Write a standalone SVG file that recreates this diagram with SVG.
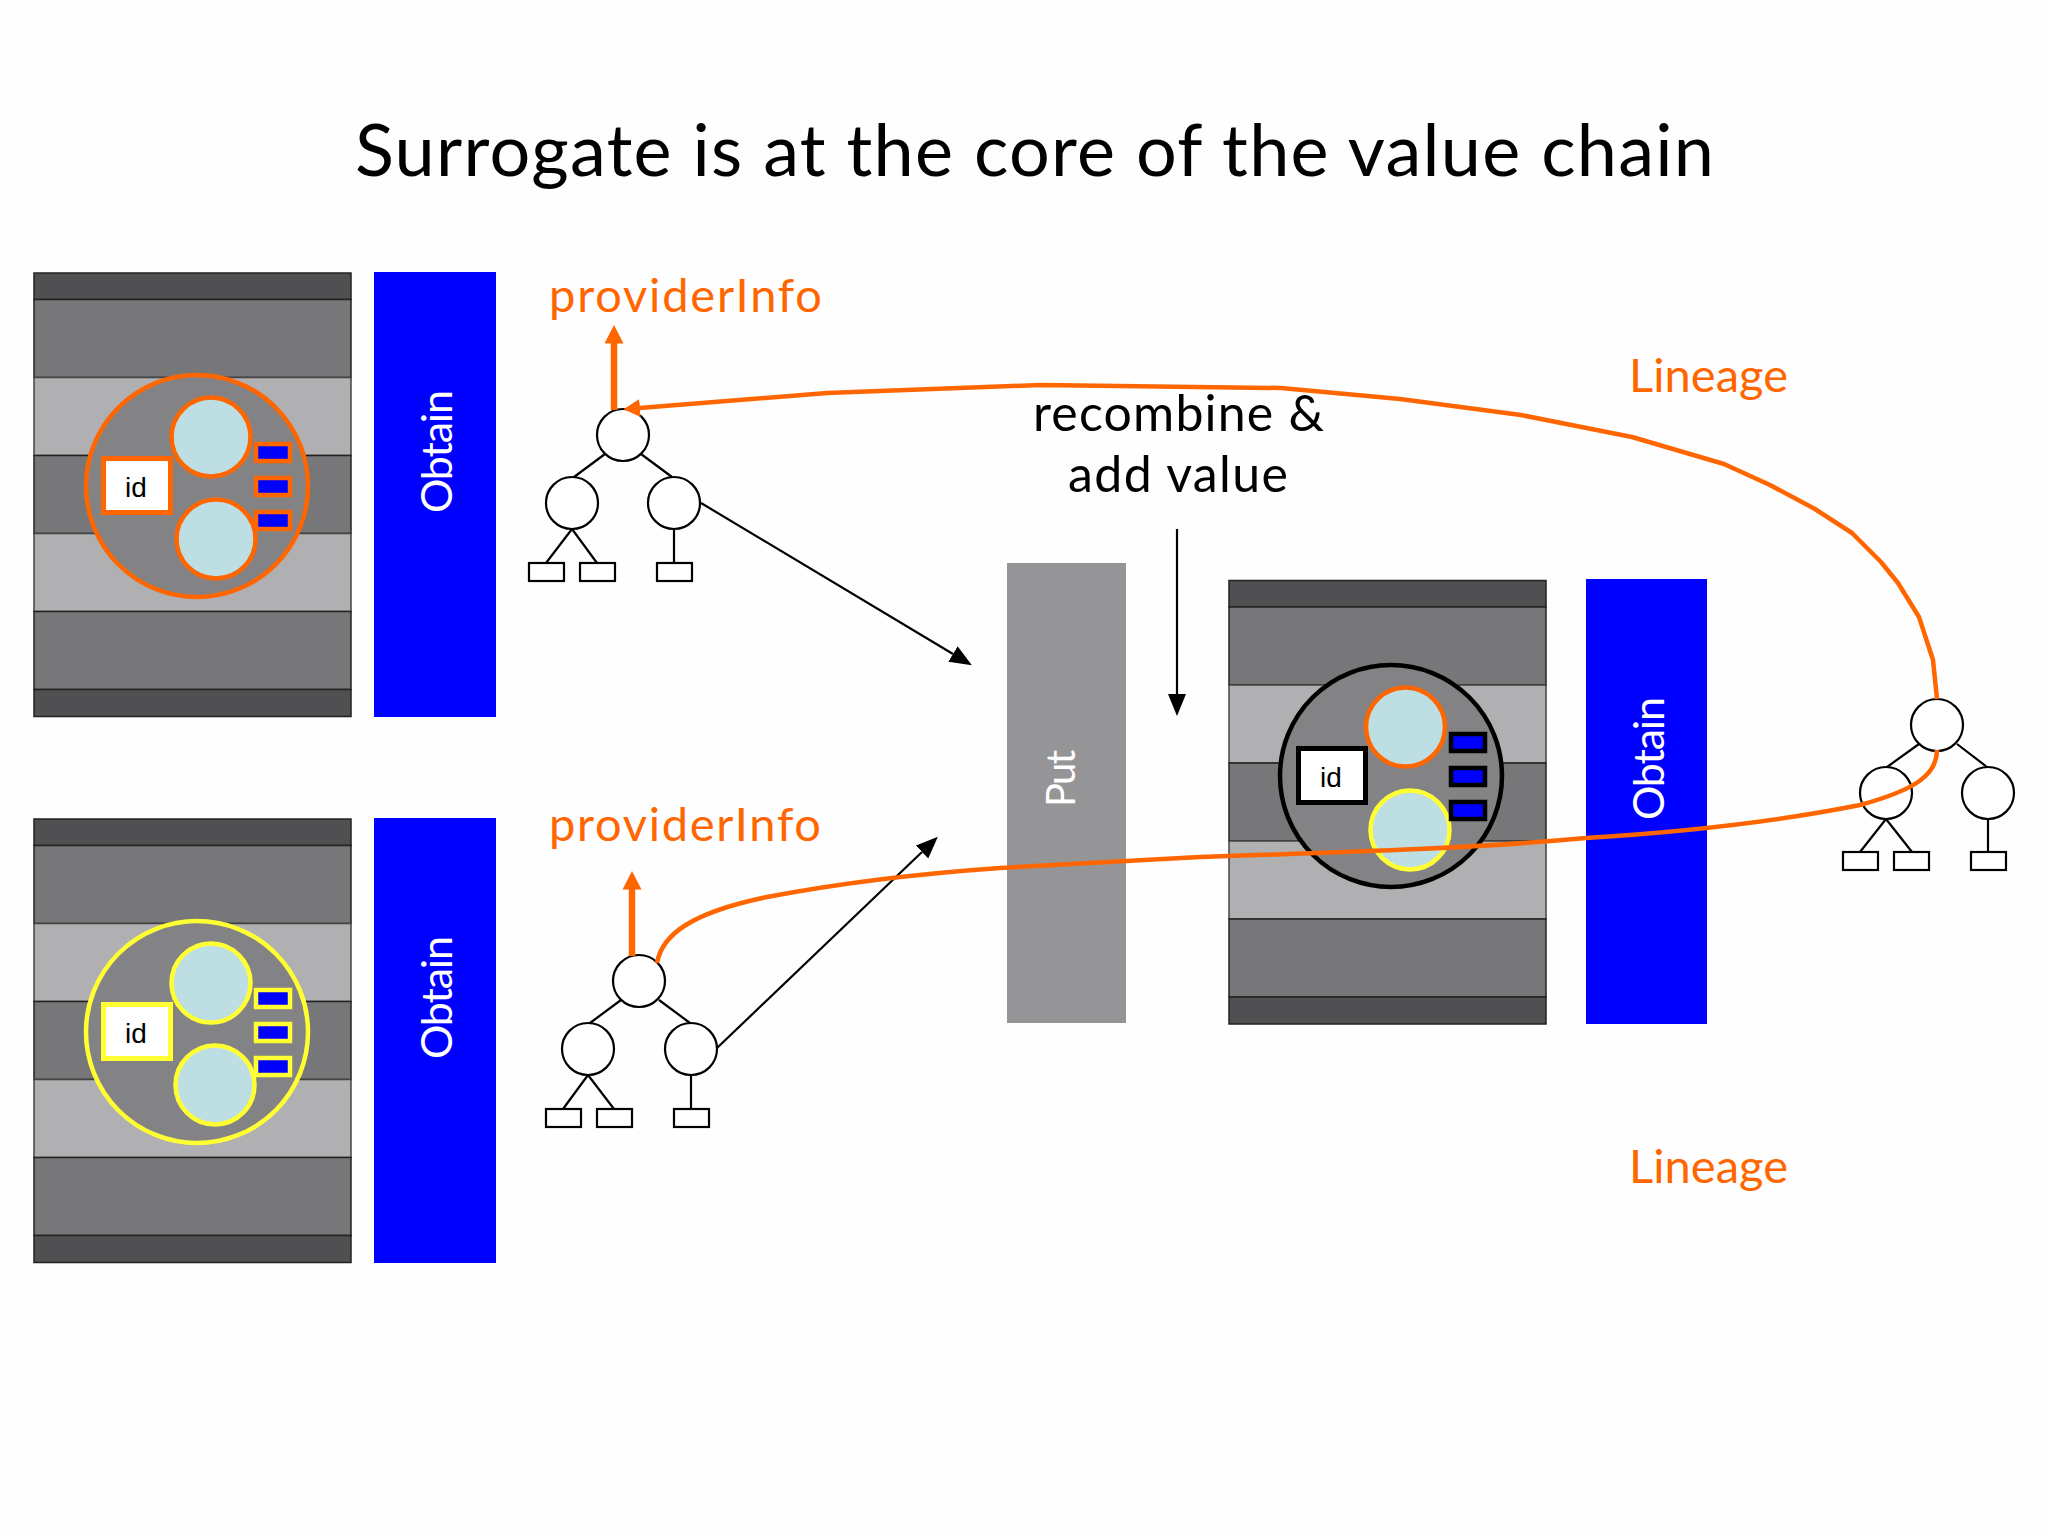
<svg xmlns="http://www.w3.org/2000/svg" width="2048" height="1536" viewBox="0 0 2048 1536">
<style>
text{font-family:"Lato","Open Sans","Noto Sans",sans-serif}
.title{font-size:72px;fill:#000}
.lab{font-size:50px;fill:#000}
.or{font-size:47px;fill:#ff6600}
.ob{font-size:43px;fill:#fff}
.id{font-family:"Liberation Sans",Arial,sans-serif;font-size:28px;fill:#000;text-anchor:middle}
.dk{fill:#505052;stroke:#222;stroke-width:1.5}
.md{fill:#777678;stroke:#222;stroke-width:1.5}
.lt{fill:#b0afb1;stroke:#444;stroke-width:1.5}
.bl{fill:#0000ff}
.big{fill:#838385;stroke-width:4.5}
.in{fill:#bddfe4;stroke-width:4.5}
.idb{fill:#fff;stroke-width:5}
.sm{fill:#0000ff;stroke-width:4.5}
.o{stroke:#ff6600}.y{stroke:#ffff33}.k{stroke:#000}
.nd{fill:#fff;stroke:#000;stroke-width:2.2}
.e{fill:none;stroke:#000;stroke-width:2.2}
.c{fill:none;stroke:#ff6600;stroke-width:4.5;stroke-linejoin:round}
.t{fill:none;stroke:#ff6600;stroke-width:6.500}
</style>
<defs>
<marker id="ah" markerUnits="userSpaceOnUse" markerWidth="24" markerHeight="20" refX="0" refY="9" orient="auto"><path d="M0 0L22 9L0 18z" fill="#000"/></marker>
<marker id="oh" markerUnits="userSpaceOnUse" markerWidth="20" markerHeight="20" refX="0.500" refY="9.500" orient="auto"><path d="M0 0L18.500 9.500L0 19z" fill="#ff6600"/></marker>
<marker id="oh2" markerUnits="userSpaceOnUse" markerWidth="20" markerHeight="20" refX="0.500" refY="9" orient="auto"><path d="M0 0L16.500 9L0 18z" fill="#ff6600"/></marker>
<g id="stackbands">
<rect class="dk" x="0" y="0" width="317" height="26.500"/>
<rect class="md" x="0" y="26.500" width="317" height="78"/>
<rect class="lt" x="0" y="104.500" width="317" height="78"/>
<rect class="md" x="0" y="182.500" width="317" height="78"/>
<rect class="lt" x="0" y="260.500" width="317" height="78"/>
<rect class="md" x="0" y="338.500" width="317" height="78"/>
<rect class="dk" x="0" y="416.500" width="317" height="27"/>
</g>
</defs>
<rect width="2048" height="1536" fill="#fefefe"/>
<text id="title" class="title" x="355" y="176" textLength="1359">Surrogate is at the core of the value chain</text>

<g id="stack-top">
<use href="#stackbands" x="34" y="273"/>
<circle class="big o" cx="197" cy="486" r="111"/>
<circle class="in o" cx="211" cy="437" r="39.500"/>
<circle class="in o" cx="216" cy="539" r="39.500"/>
<rect class="idb o" x="103.500" y="458.500" width="67" height="54"/>
<text class="id" x="136" y="497">id</text>
<rect class="sm o" x="256" y="444" width="34" height="17"/>
<rect class="sm o" x="256" y="478" width="34" height="17"/>
<rect class="sm o" x="256" y="512" width="34" height="17"/>
</g>
<g id="obtain-top"><rect class="bl" x="374" y="272" width="122" height="445"/>
<text class="ob" transform="translate(452 513) rotate(-90)" textLength="123">Obtain</text></g>

<g id="stack-bottom">
<use href="#stackbands" x="34" y="819"/>
<circle class="big y" cx="197" cy="1032" r="111"/>
<circle class="in y" cx="211" cy="983" r="39.500"/>
<circle class="in y" cx="215" cy="1085" r="39.500"/>
<rect class="idb y" x="103.500" y="1004.500" width="67" height="54"/>
<text class="id" x="136" y="1043">id</text>
<rect class="sm y" x="256" y="990" width="34" height="17"/>
<rect class="sm y" x="256" y="1024" width="34" height="17"/>
<rect class="sm y" x="256" y="1058" width="34" height="17"/>
</g>
<g id="obtain-bottom"><rect class="bl" x="374" y="818" width="122" height="445"/>
<text class="ob" transform="translate(452 1059) rotate(-90)" textLength="123">Obtain</text></g>

<g id="put"><rect x="1007" y="563" width="119" height="460" fill="#959497"/>
<text class="ob" transform="translate(1075 807) rotate(-90)" textLength="57" style="font-size:40px">Put</text></g>

<g id="stack-right">
<use href="#stackbands" x="1229" y="580.500"/>
<circle class="big k" cx="1391" cy="776" r="111"/>
<circle class="in o" cx="1405.500" cy="727" r="39.500"/>
<circle class="in y" cx="1410" cy="830" r="39.500"/>
<rect class="idb k" x="1298.500" y="748.500" width="67" height="54"/>
<text class="id" x="1331" y="787">id</text>
<rect class="sm k" x="1451" y="734" width="34" height="17"/>
<rect class="sm k" x="1451" y="768" width="34" height="17"/>
<rect class="sm k" x="1451" y="802" width="34" height="17"/>
</g>
<g id="obtain-right"><rect class="bl" x="1586" y="579" width="121" height="445"/>
<text class="ob" transform="translate(1664 820) rotate(-90)" textLength="123">Obtain</text></g>

<g id="tree-top">
<circle class="nd" cx="623" cy="435" r="26"/><circle class="nd" cx="572" cy="503" r="26"/><circle class="nd" cx="674" cy="503" r="26"/>
<rect class="nd" x="529" y="563" width="35" height="18"/><rect class="nd" x="580" y="563" width="35" height="18"/><rect class="nd" x="657" y="563" width="35" height="18"/>
</g>
<g id="tree-bottom">
<circle class="nd" cx="639" cy="981" r="26"/><circle class="nd" cx="588" cy="1049" r="26"/><circle class="nd" cx="691" cy="1049" r="26"/>
<rect class="nd" x="546" y="1109" width="35" height="18"/><rect class="nd" x="597" y="1109" width="35" height="18"/><rect class="nd" x="674" y="1109" width="35" height="18"/>
</g>
<g id="tree-right">
<circle class="nd" cx="1937" cy="725" r="26"/><circle class="nd" cx="1886" cy="793" r="26"/><circle class="nd" cx="1988" cy="793" r="26"/>
<rect class="nd" x="1843" y="852" width="35" height="18"/><rect class="nd" x="1894" y="852" width="35" height="18"/><rect class="nd" x="1971" y="852" width="35" height="18"/>
</g>

<text id="label-provider-top" class="or" x="549" y="312" textLength="273">providerInfo</text>
<text id="label-provider-bottom" class="or" x="549" y="841" textLength="272">providerInfo</text>
<text id="label-lineage-top" class="or" x="1629" y="392" textLength="159">Lineage</text>
<text id="label-lineage-bottom" class="or" x="1629" y="1183" textLength="159">Lineage</text>
<text id="label-recombine" class="lab" x="1033" y="431" textLength="291">recombine &amp;</text>
<text id="label-add" class="lab" x="1068" y="492" textLength="220">add value</text>

<g id="connectors">
<path class="e" d="M605 454L574 477M641 454L672 477M572 529L546 563M572 529L597 563M674 529V563"/>
<path class="e" d="M621 1000L590 1023M659 1000L690 1023M588 1075L563 1109M588 1075L614 1109M691 1075V1109"/>
<path class="e" d="M1919 744L1887 767M1957 744L1987 767M1886 819L1860 852M1886 819L1912 852M1988 819V852"/>
<line class="e" x1="701" y1="503" x2="953" y2="654" marker-end="url(#ah)"/>
<line class="e" x1="717" y1="1048" x2="922" y2="852" marker-end="url(#ah)"/>
<line class="e" x1="1177" y1="529" x2="1177" y2="694" marker-end="url(#ah)"/>
<line class="t" x1="614" y1="410" x2="614" y2="343" marker-end="url(#oh)"/>
<line class="t" x1="632" y1="956" x2="632" y2="889" marker-end="url(#oh)"/>
<polyline class="c" points="1937,699 1933,660 1919,617 1898,583 1881,562 1852,533 1815,509 1770,485 1724,464 1632,437 1521,415 1400,399 1281,388 1040,385 827,393 639.500,408" marker-end="url(#oh2)"/>
<path class="c" d="M657 963C662 935 690 913 767 897C830 885 900 875 1000 868C1100 862 1150 860 1200 857C1350 852 1480 848 1586 838C1650 834 1760 825 1860 805C1915 790 1937 775 1937 750"/>
</g>
</svg>
